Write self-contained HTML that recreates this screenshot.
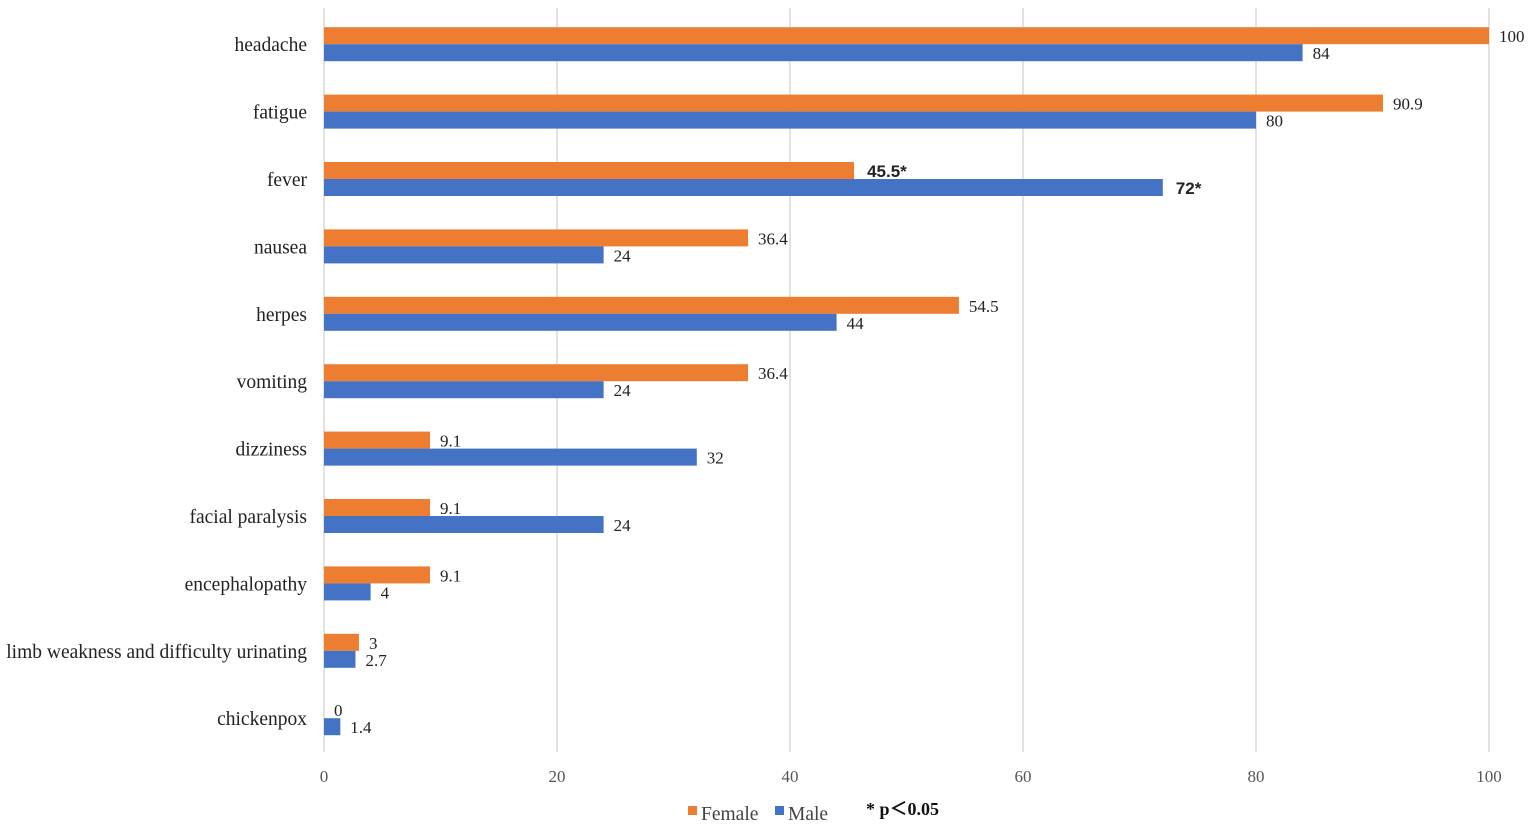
<!DOCTYPE html>
<html><head><meta charset="utf-8"><style>
html,body{margin:0;padding:0;background:#fff;}
svg{display:block;font-family:"Liberation Serif",serif;}
</style></head><body>
<svg id="chart" width="1535" height="834" xmlns="http://www.w3.org/2000/svg">
<g id="grid"></g>
<g id="bars"></g>
<g id="cats"></g>
<g id="ticks"></g>
<g>
<rect x="688" y="806" width="9" height="9" fill="#ED7D31"/>
<text x="701" y="820" font-size="19.5" fill="#444">Female</text>
<rect x="775" y="806" width="9" height="9" fill="#4472C4"/>
<text x="788" y="820" font-size="19.5" fill="#444">Male</text>
<text x="866" y="815" font-size="18" font-weight="bold" fill="#111" font-family="Liberation Serif, Noto Sans CJK SC, serif">* p＜0.05</text>
</g>
</svg>
<script>
const categories=["headache","fatigue","fever","nausea","herpes","vomiting","dizziness","facial paralysis","encephalopathy","limb weakness and difficulty urinating","chickenpox"];
const femaleValues=[100,90.9,45.5,36.4,54.5,36.4,9.1,9.1,9.1,3,0];
const maleValues=[84,80,72,24,44,24,32,24,4,2.7,1.4];
const femaleLabels=["100","90.9","45.5*","36.4","54.5","36.4","9.1","9.1","9.1","3","0"];
const maleLabels=["84","80","72*","24","44","24","32","24","4","2.7","1.4"];
const tickValues=[0,20,40,60,80,100];

const NS="http://www.w3.org/2000/svg";
const x0=324,x1=1489,vmax=100;
const xs=v=>x0+(x1-x0)*v/vmax;
const top0=10.5,band=67.4;
const yc=i=>top0+band*(i+0.5);
const bh=17;
function mk(tag,attrs,parent){const e=document.createElementNS(NS,tag);for(const k in attrs)e.setAttribute(k,attrs[k]);document.getElementById(parent).appendChild(e);return e;}
tickValues.forEach(t=>{
  const l=mk('line',{x1:xs(t),x2:xs(t),y1:8,y2:752,stroke:'#d9d9d9','stroke-width':1.5},'grid');
  
  
  const tx=mk('text',{x:xs(t),y:782,'text-anchor':'middle','font-size':17,fill:'#555'},'ticks');
  tx.textContent=t;
  
  
});
categories.forEach((c,i)=>{
  const y=yc(i);
  const t=mk('text',{x:307,y:y+7,'text-anchor':'end','font-size':19.5,fill:'#222'},'cats');
  t.textContent=c;
  
  
  const fw=xs(femaleValues[i])-x0;
  const fb=mk('rect',{x:x0,y:y-bh,width:fw,height:bh,fill:'#ED7D31'},'bars');
  
  
  const mw=xs(maleValues[i])-x0;
  const mb=mk('rect',{x:x0,y:y,width:mw,height:bh,fill:'#4472C4'},'bars');
  
  
  const sig=femaleLabels[i].includes('*');
  const fl=mk('text',{x:xs(femaleValues[i])+(sig?13:10),y:y-2,'font-size':sig?17:17,fill:'#222','font-family':sig?'Liberation Sans, sans-serif':'Liberation Serif, serif','font-weight':sig?'bold':'normal'},'bars');
  fl.textContent=femaleLabels[i];
  
  
  const sig2=maleLabels[i].includes('*');
  const ml=mk('text',{x:xs(maleValues[i])+(sig2?13:10),y:y+15,'font-size':17,fill:'#222','font-family':sig2?'Liberation Sans, sans-serif':'Liberation Serif, serif','font-weight':sig2?'bold':'normal'},'bars');
  ml.textContent=maleLabels[i];
  
  
});
</script>
</body></html>
